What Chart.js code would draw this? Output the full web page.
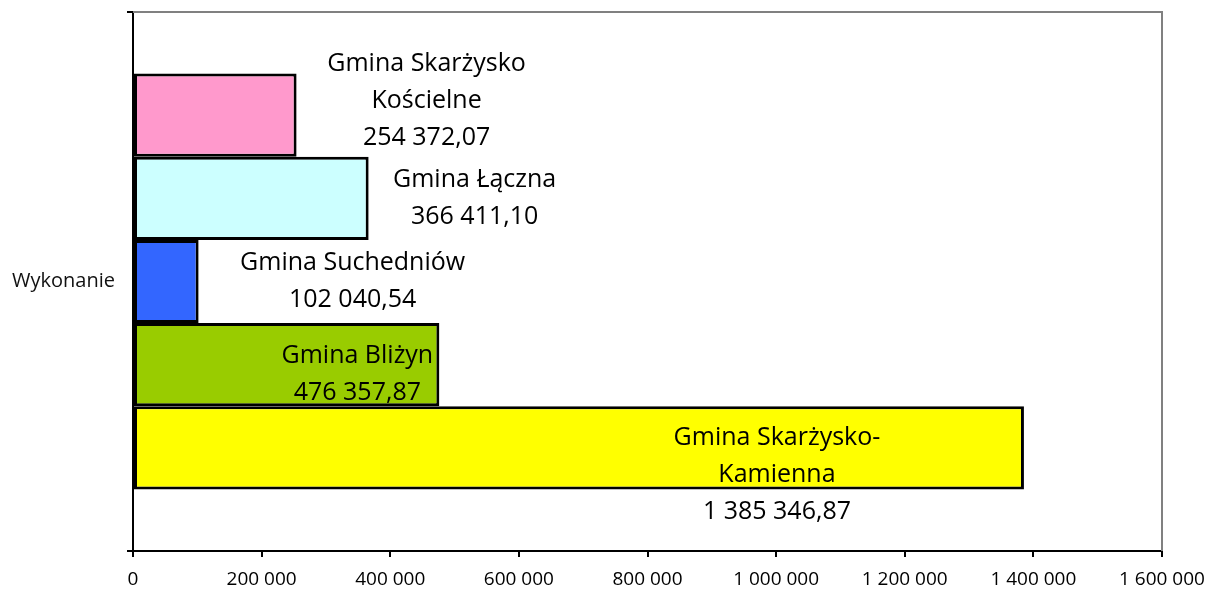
<!DOCTYPE html>
<html>
<head>
<meta charset="utf-8">
<script src="https://cdn.jsdelivr.net/npm/chart.js@4"></script>
<style>
  html, body { margin: 0; padding: 0; background: #fff; }
  #wrap { width: 1214px; height: 593px; }
</style>
</head>
<body>
<div id="wrap"><canvas id="chart" width="1214" height="593"></canvas></div>
<script>
// Data
const categories = ['Wykonanie'];
const gminy = [
    ['Gmina Skarżysko', 'Kościelne'],
    ['Gmina Łączna'],
    ['Gmina Suchedniów'],
    ['Gmina Bliżyn'],
    ['Gmina Skarżysko-', 'Kamienna']
];
const values = [254372.07, 366411.10, 102040.54, 476357.87, 1385346.87];
const colors = ['#FF99CC', '#CCFFFF', '#3366FF', '#99CC00', '#FFFF00'];
const xTicks = [0, 200000, 400000, 600000, 800000, 1000000, 1200000, 1400000, 1600000];

// Label placement relative to bar end / bar centre (as in the original)
const labelOffsets = [
    { dx: 130, dy: -51 },
    { dx: 106, dy: -18 },
    { dx: 154, dy: -19 },
    { dx: -82, dy: -9 },
    { dx: -247, dy: -10 }
];

// Format number with space thousands separator and comma decimals
function fmt(v, dec) {
    const parts = v.toFixed(dec).split('.');
    const intPart = parts[0].replace(/\B(?=(\d{3})+(?!\d))/g, ' ');
    return parts[1] ? intPart + ',' + parts[1] : intPart;
}

// Draws the gray frame on top and right of plot area
const framePlugin = {
    id: 'frame',
    beforeDatasetsDraw(chart) {
        const { ctx, chartArea: a } = chart;
        ctx.save();
        ctx.strokeStyle = '#808080';
        ctx.lineWidth = 2;
        ctx.beginPath();
        ctx.moveTo(a.left, a.top);
        ctx.lineTo(a.right, a.top);
        ctx.lineTo(a.right, a.bottom);
        ctx.stroke();
        ctx.restore();
    }
};

// Draws data labels (name + value) next to each bar
const labelPlugin = {
    id: 'barLabels',
    afterDatasetsDraw(chart) {
        const ctx = chart.ctx;
        ctx.save();
        ctx.font = '25px "Open Sans", sans-serif';
        ctx.fillStyle = '#000';
        ctx.textAlign = 'center';
        ctx.textBaseline = 'middle';
        chart.data.datasets.forEach((ds, i) => {
            const bar = chart.getDatasetMeta(i).data[0];
            const off = labelOffsets[i];
            const lines = gminy[i].concat([fmt(values[i], 2)]);
            lines.forEach((t, j) => {
                ctx.fillText(t, bar.x + off.dx, bar.y + off.dy + j * 37);
            });
        });
        ctx.restore();
    }
};

const ctx = document.getElementById('chart').getContext('2d');
new Chart(ctx, {
    type: 'bar',
    data: {
        labels: categories,
        datasets: gminy.map((g, i) => ({
            label: g.join(' '),
            data: [values[i]],
            backgroundColor: colors[i],
            borderColor: '#000',
            borderWidth: 3,
            borderSkipped: false,
            barPercentage: 1,
            categoryPercentage: 0.772
        }))
    },
    options: {
        indexAxis: 'y',
        responsive: false,
        animation: false,
        layout: { padding: { top: 12, right: 52, left: 0, bottom: 0 } },
        plugins: {
            legend: { display: false },
            tooltip: { enabled: false }
        },
        scales: {
            x: {
                min: 0,
                max: 1600000,
                afterBuildTicks(scale) {
                    scale.ticks = xTicks.map(v => ({ value: v }));
                },
                afterFit(scale) {
                    scale.height = 42;
                    scale.paddingLeft = 0;
                    scale.paddingRight = 0;
                },
                grid: {
                    drawOnChartArea: false,
                    color: '#000',
                    lineWidth: 2,
                    tickLength: 6
                },
                border: { color: '#000', width: 2 },
                ticks: {
                    color: '#000',
                    padding: 11,
                    maxRotation: 0,
                    font: { family: '"Open Sans", sans-serif', size: 19 },
                    callback: v => fmt(v, 0)
                }
            },
            y: {
                afterFit(scale) {
                    scale.width = 133;
                    scale.paddingTop = 0;
                    scale.paddingBottom = 0;
                },
                grid: {
                    drawOnChartArea: false,
                    color: '#000',
                    lineWidth: 2,
                    tickLength: 6
                },
                border: { color: '#000', width: 2 },
                ticks: {
                    color: '#111',
                    padding: 12,
                    font: { family: '"Open Sans", sans-serif', size: 20 }
                }
            }
        }
    },
    plugins: [framePlugin, labelPlugin]
});
</script>
</body>
</html>
